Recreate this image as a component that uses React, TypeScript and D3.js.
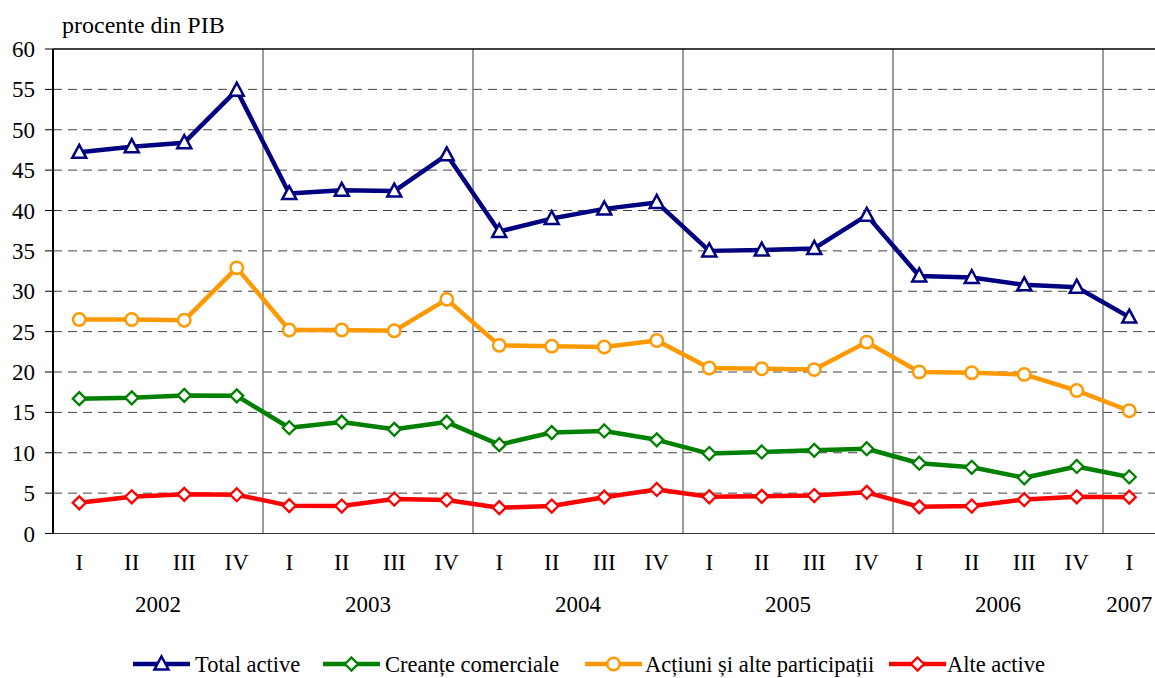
import React from "react";
import * as d3 from "d3";

const quarterLabels = ["I","II","III","IV","I","II","III","IV","I","II","III","IV","I","II","III","IV","I","II","III","IV","I"];
const yearLabels = ["2002","2003","2004","2005","2006","2007"];
const yearQuarterCounts = [4,4,4,4,4,1];
const yTicks = [0,5,10,15,20,25,30,35,40,45,50,55,60];

const totalActive = [47.2,47.9,48.4,54.9,42.1,42.5,42.4,46.9,37.4,39.0,40.2,41.0,35.0,35.1,35.3,39.4,31.9,31.7,30.8,30.5,26.8];
const actiuni = [26.5,26.5,26.4,32.9,25.2,25.2,25.1,29.0,23.3,23.2,23.1,23.9,20.5,20.4,20.3,23.7,20.0,19.9,19.7,17.7,15.2];
const creante = [16.7,16.8,17.1,17.05,13.1,13.8,12.9,13.8,11.0,12.5,12.7,11.6,9.9,10.1,10.3,10.5,8.7,8.2,6.9,8.3,7.0];
const alteActive = [3.8,4.55,4.85,4.8,3.45,3.4,4.27,4.15,3.2,3.4,4.5,5.45,4.55,4.6,4.7,5.1,3.3,3.4,4.2,4.55,4.5];

const seriesNames = ["Total active","Creanțe comerciale","Acțiuni și alte participații","Alte active"];
const seriesColors = ["#000080","#008000","#FF9900","#FF0000"];
const seriesMarkers = ["triangle","diamond","circle","diamond"];

const FONT = "Liberation Serif, Times New Roman, Times, DejaVu Serif, serif";
const FS = 23;

function Marker({ type, x, y, color }: { type: string; x: number; y: number; color: string }) {
  if (type === "triangle") {
    return <path d={`M${x},${y - 7.5}L${x + 7},${y + 5.5}L${x - 7},${y + 5.5}Z`} fill="#fff" stroke={color} strokeWidth={2.5} strokeLinejoin="miter" />;
  }
  if (type === "circle") {
    return <circle cx={x} cy={y} r={6.2} fill="#fff" stroke={color} strokeWidth={2.5} />;
  }
  return <path d={`M${x},${y - 6.5}L${x + 6.5},${y}L${x},${y + 6.5}L${x - 6.5},${y}Z`} fill="#fff" stroke={color} strokeWidth={2.3} />;
}

export default function App() {
  const W = 1155, H = 678;
  const left = 53, right = 1155.5, top = 49, bottom = 533.5;
  const idx = quarterLabels.map((_, i) => i);
  const x = d3.scaleBand<number>().domain(idx).range([left, right]).padding(0);
  const y = d3.scaleLinear().domain([0, 60]).range([bottom, top]);
  const cx = (i: number) => (x(i) as number) + x.bandwidth() / 2;

  const allSeries = [totalActive, creante, actiuni, alteActive];
  const line = d3.line<number>().x((_, i) => cx(i)).y((v) => y(v));

  const yearStarts: number[] = [];
  let acc = 0;
  yearQuarterCounts.forEach((c) => { yearStarts.push(acc); acc += c; });

  const legendItems = [
    { lineX: 133, textX: 195 },
    { lineX: 323, textX: 385 },
    { lineX: 585, textX: 645 },
    { lineX: 889, textX: 947 },
  ];
  const legendY = 664;
  const textStyle = { fontFamily: FONT, fontSize: FS };

  return (
    <svg width={W} height={H} style={{ position: "absolute", left: 0, top: 0, background: "#fff", fontFamily: FONT }}>
      <rect x={0} y={0} width={W} height={H} fill="#fff" />
      <text x={62} y={33} style={{ fontFamily: FONT, fontSize: 24 }} fill="#000">procente din PIB</text>

      {yTicks.filter((t) => t > 0 && t < 60).map((t) => (
        <line key={t} x1={left} x2={right} y1={y(t)} y2={y(t)} stroke="#444" strokeWidth={1} strokeDasharray="9,6" />
      ))}

      {yearStarts.slice(1).map((s, k) => (
        <line key={k} x1={x(s) as number} x2={x(s) as number} y1={top} y2={bottom} stroke="#666" strokeWidth={1.3} />
      ))}

      <line x1={left} x2={right} y1={top} y2={top} stroke="#000" strokeWidth={1.3} />
      <line x1={left} x2={right} y1={bottom} y2={bottom} stroke="#333" strokeWidth={1.2} />
      <line x1={left} x2={left} y1={top} y2={bottom} stroke="#000" strokeWidth={2} />

      {yTicks.map((t) => (
        <g key={t}>
          <line x1={45} x2={left} y1={y(t)} y2={y(t)} stroke="#000" strokeWidth={1} />
          <text x={35} y={y(t)} dy="0.35em" textAnchor="end" style={textStyle} fill="#000">{t}</text>
        </g>
      ))}

      {quarterLabels.map((q, i) => (
        <text key={i} x={cx(i)} y={570} textAnchor="middle" style={textStyle} fill="#000">{q}</text>
      ))}
      {yearLabels.map((yl, k) => {
        const s = yearStarts[k];
        const e = s + yearQuarterCounts[k] - 1;
        const mx = ((x(s) as number) + (x(e) as number) + x.bandwidth()) / 2;
        return <text key={yl} x={mx} y={612} textAnchor="middle" style={textStyle} fill="#000">{yl}</text>;
      })}

      {allSeries.map((vals, si) => (
        <g key={si}>
          <path d={line(vals) || ""} fill="none" stroke={seriesColors[si]} strokeWidth={4.5} strokeLinejoin="round" />
          {vals.map((v, i) => (
            <Marker key={i} type={seriesMarkers[si]} x={cx(i)} y={y(v)} color={seriesColors[si]} />
          ))}
        </g>
      ))}

      {seriesNames.map((n, i) => {
        const it = legendItems[i];
        return (
          <g key={n}>
            <line x1={it.lineX} x2={it.lineX + 57} y1={legendY} y2={legendY} stroke={seriesColors[i]} strokeWidth={4.5} />
            <Marker type={seriesMarkers[i]} x={it.lineX + 28.5} y={legendY} color={seriesColors[i]} />
            <text x={it.textX} y={672} style={{ fontFamily: FONT, fontSize: 22.5 }} fill="#000">{n}</text>
          </g>
        );
      })}
    </svg>
  );
}
